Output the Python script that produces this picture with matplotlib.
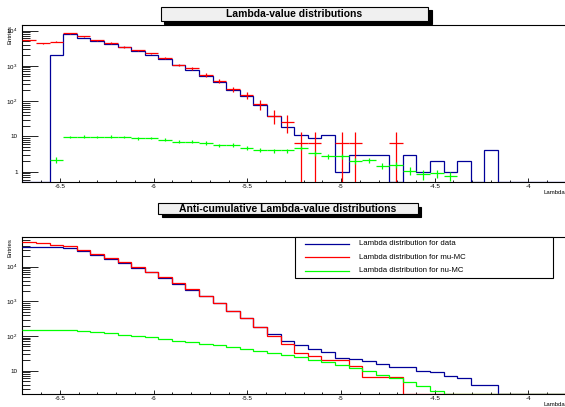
import numpy as np
import matplotlib.pyplot as plt
from matplotlib.patches import Rectangle
from matplotlib.lines import Line2D
from matplotlib.ticker import MultipleLocator, LogLocator, NullFormatter, FuncFormatter

plt.rcParams['font.family'] = ['Liberation Sans', 'DejaVu Sans']
plt.rcParams['axes.unicode_minus'] = False
plt.rcParams['mathtext.default'] = 'regular'

# 40 lambda bins between -6.7 and -3.8
lam_lo, lam_hi, n_bins = -6.7, -3.8, 40
edges = np.linspace(lam_lo, lam_hi, n_bins + 1)
centers = 0.5 * (edges[:-1] + edges[1:])
half_width = 0.5 * (edges[1] - edges[0])

# bin contents, one entry per bin
data_counts = np.array([0, 0, 1970, 7760, 6150, 5030, 4150, 3330, 2560, 2050,
                        1560, 1070, 744, 525, 338, 210, 135, 77, 39, 18,
                        11, 9, 11, 1, 3, 3, 3, 0, 3, 1,
                        2, 1, 2, 0, 4, 0, 0, 0, 0, 0], dtype=float)
mu_mc = np.array([5250, 4300, 4800, 8300, 6800, 5350, 4450, 3400, 2740, 2240,
                  1620, 1050, 860, 550, 380, 215, 145, 81, 38.6, 26,
                  6.7, 6.7, 0, 6.7, 6.7, 0, 0, 6.7, 0, 0,
                  0, 0, 0, 0, 0, 0, 0, 0, 0, 0])
nu_mc = np.array([0, 0, 2.2, 9.6, 9.8, 9.7, 9.8, 9.6, 8.8, 9.0,
                  8.1, 7.1, 7.0, 6.5, 5.6, 5.8, 4.7, 4.2, 4.0, 4.0,
                  4.7, 3.3, 2.8, 2.7, 2.05, 2.1, 1.48, 1.58, 1.07, 0.84,
                  0.9, 0.77, 0.3, 0.3, 0.25, 0.15, 0, 0, 0, 0])

# per-event weights of the MC samples (for the error bars)
mu_weight = 6.7
nu_weight = 0.07

legend_labels = ['Lambda distribution for data',
                 'Lambda distribution for mu-MC',
                 'Lambda distribution for nu-MC']

c_data = '#000099'
c_mu = '#ff0000'
c_nu = '#00ff00'

W, H = 565, 407
fig = plt.figure(figsize=(W / 100, H / 100), dpi=100)
fig.patch.set_facecolor('white')


def px_rect(x0, y0, x1, y1):
    # pixel box (origin top-left) -> figure fraction [left, bottom, width, height]
    return [x0 / W, 1 - y1 / H, (x1 - x0) / W, (y1 - y0) / H]


def log_label(v, pos):
    n = int(round(np.log10(v)))
    if n == 0:
        return '1'
    if n == 1:
        return '10'
    return '$10^{%d}$' % n


def style_pad(ax, ymin, ymax):
    ax.set_xlim(-6.7, -3.805)
    ax.set_yscale('log')
    ax.set_ylim(ymin, ymax)
    ax.spines['right'].set_visible(False)
    for s in ax.spines.values():
        s.set_linewidth(0.8)
    ax.xaxis.set_major_locator(MultipleLocator(0.5))
    ax.xaxis.set_minor_locator(MultipleLocator(0.1))
    ax.xaxis.set_major_formatter(FuncFormatter(lambda v, p: '%g' % v))
    ax.yaxis.set_major_locator(LogLocator(base=10, numticks=20))
    ax.yaxis.set_minor_locator(LogLocator(base=10, subs=np.arange(2, 10), numticks=20))
    ax.yaxis.set_major_formatter(FuncFormatter(log_label))
    ax.yaxis.set_minor_formatter(NullFormatter())
    ax.tick_params(axis='x', which='major', direction='in', length=3, width=0.6,
                   labelsize=4.5, pad=1.5)
    ax.tick_params(axis='x', which='minor', direction='in', length=1.7, width=0.6)
    ax.tick_params(axis='y', which='major', direction='in', length=11.5, width=0.6,
                   labelsize=4.5, pad=3.5)
    ax.tick_params(axis='y', which='minor', direction='in', length=5.8, width=0.6)


def title_box(x0, y0, x1, y1, text):
    fig.add_artist(Rectangle(((x0 + 3.5) / W, 1 - (y1 + 3.5) / H), (x1 - x0) / W,
                             (y1 - y0) / H, transform=fig.transFigure,
                             facecolor='black', edgecolor='black', lw=0.8))
    fig.add_artist(Rectangle((x0 / W, 1 - y1 / H), (x1 - x0) / W, (y1 - y0) / H,
                             transform=fig.transFigure, facecolor='#f0f0f0',
                             edgecolor='black', lw=0.8))
    fig.text((x0 + x1) / 2 / W, 1 - (y0 + y1) / 2 / H, text, ha='center',
             va='center', fontsize=7.5, fontweight='bold')


def anti_cumulative(h):
    return h[::-1].cumsum()[::-1]


# --- top pad: plain distributions ---
ax1 = fig.add_axes(px_rect(22.4, 24.5, 565, 182.3))
ymin1, ymax1 = 0.5, 14800
style_pad(ax1, ymin1, ymax1)
ax1.stairs(np.maximum(data_counts, ymin1), edges, baseline=None,
           color=c_data, lw=0.9, zorder=3)
m = mu_mc > 0
ax1.errorbar(centers[m], mu_mc[m], xerr=half_width,
             yerr=np.sqrt(mu_weight * mu_mc[m]), fmt='none',
             ecolor=c_mu, elinewidth=0.9, capsize=0, zorder=4)
n = nu_mc > 0
ax1.errorbar(centers[n], nu_mc[n], xerr=half_width,
             yerr=np.sqrt(nu_weight * nu_mc[n]), fmt='none',
             ecolor=c_nu, elinewidth=0.9, capsize=0, zorder=4)

# --- bottom pad: anti-cumulative distributions ---
ax2 = fig.add_axes(px_rect(22.4, 237.3, 565, 394))
ymin2, ymax2 = 2.13, 70500
style_pad(ax2, ymin2, ymax2)
for h, col in [(data_counts, c_data), (mu_mc, c_mu), (nu_mc, c_nu)]:
    ax2.stairs(np.maximum(anti_cumulative(h), ymin2), edges, baseline=None,
               color=col, lw=0.9, zorder=3)

# axis titles, ROOT style
for y_top, y_lab in [(25, 192.7), (238, 405)]:
    fig.text(10.5 / W, 1 - y_top / H, 'Entries', rotation=90, ha='center',
             va='top', fontsize=4.3)
    fig.text(543 / W, 1 - y_lab / H, 'Lambda', ha='left', va='center', fontsize=4.3)

title_box(160.7, 6.7, 428.3, 20.7, 'Lambda-value distributions')
title_box(158.3, 203.3, 417.7, 214, 'Anti-cumulative Lambda-value distributions')

# legend box
lx0, ly0, lx1, ly1 = 295, 237.3, 553.3, 278.3
fig.add_artist(Rectangle((lx0 / W, 1 - ly1 / H), (lx1 - lx0) / W, (ly1 - ly0) / H,
                         transform=fig.transFigure, facecolor='white',
                         edgecolor='black', lw=0.8, zorder=5))
for yy, lab, col in zip([243.7, 257.3, 271], legend_labels, [c_data, c_mu, c_nu]):
    fig.add_artist(Line2D([305 / W, 349.3 / W], [1 - yy / H, 1 - yy / H],
                          transform=fig.transFigure, color=col, lw=0.9, zorder=6))
    fig.text(359.3 / W, 1 - yy / H, lab, ha='left', va='center', fontsize=5.6,
             zorder=6)

fig.savefig('out.png', dpi=100)
